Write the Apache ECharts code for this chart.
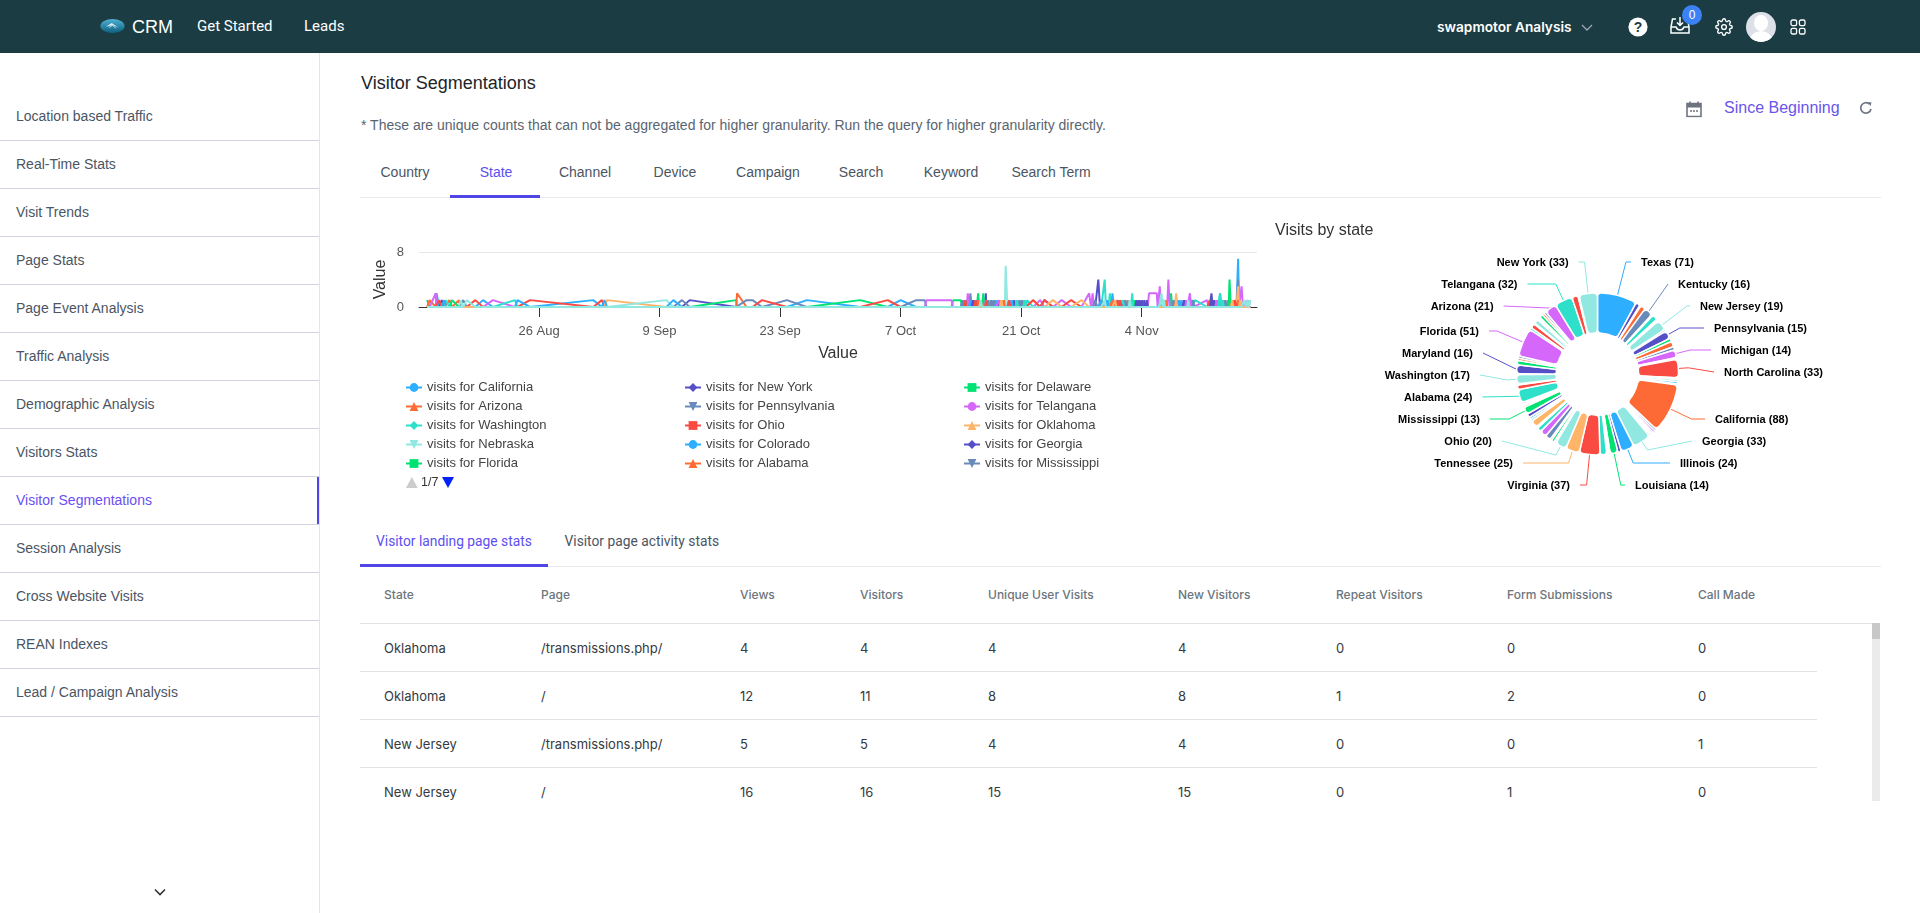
<!DOCTYPE html>
<html><head><meta charset="utf-8"><title>Visitor Segmentations</title>
<script src="https://cdn.jsdelivr.net/npm/echarts@6/dist/echarts.min.js"></script>
<style>
html,body{margin:0;padding:0;width:1920px;height:913px;overflow:hidden;background:#fff;font-family:"Liberation Sans",Arial,sans-serif}
svg{display:block}
.a{position:absolute;white-space:nowrap}
.m{transform:translateY(-50%)}
.c{transform:translate(-50%,-50%)}
#head{position:absolute;left:0;top:0;width:1920px;height:53px;background:#1b3c43}
#side{position:absolute;left:0;top:53px;width:319px;height:860px;border-right:1px solid #e4e4ee}
.si{position:absolute;left:0;width:319px;height:47px;line-height:47px;border-bottom:1px solid #d4d4e0;font-size:14px;color:#4b5563;text-indent:16px}
.si.on{color:#6a4ff0}
.tbl{font-family:Inter,sans-serif}
</style></head><body>
<div id="head"></div>
<div id="side"></div>
<div id="page"></div>
<div id="lineChart" class="a" style="left:360px;top:220px;width:910px;height:290px"></div>
<div id="pieChart" class="a" style="left:1270px;top:210px;width:650px;height:300px"></div>
<script>
/* ---------- page text ---------- */
const sideItems = ['Location based Traffic','Real-Time Stats','Visit Trends','Page Stats','Page Event Analysis','Traffic Analysis','Demographic Analysis','Visitors Stats','Visitor Segmentations','Session Analysis','Cross Website Visits','REAN Indexes','Lead / Campaign Analysis'];
const segTabs = ['Country','State','Channel','Device','Campaign','Search','Keyword','Search Term'];
const tableHead = ['State','Page','Views','Visitors','Unique User Visits','New Visitors','Repeat Visitors','Form Submissions','Call Made'];
const tableRows = [
  ['Oklahoma','/transmissions.php/','4','4','4','4','0','0','0'],
  ['Oklahoma','/','12','11','8','8','1','2','0'],
  ['New Jersey','/transmissions.php/','5','5','4','4','0','0','1'],
  ['New Jersey','/','16','16','15','15','0','1','0']
];

/* ---------- line chart values: [days since 12 Aug, visits]; every other moment is 0 ---------- */
const visitsCalifornia   = [[2.1,2],[7.5,1],[20.3,1],[45.1,1],[56.0,1],[64.1,1],[66.8,1],[68.9,1],[80.0,1],[87.7,1],[93.1,2],[95.2,7]];
const visitsNewYork      = [[2.7,1],[31.5,1],[64.4,1],[65.9,2],[69.2,1],[72.7,1],[78.96,4],[81.8,1],[83.4,1],[84.3,1],[88.9,1],[92.1,2]];
const visitsDelaware     = [[1.0,1],[36.9,1],[51.3,1],[62.1,1],[63.0,1],[65.0,2],[70.4,1],[83.1,1],[87.4,2],[92.4,1],[93.4,1],[95.9,1]];
const visitsArizona      = [[1.3,1],[3.6,1],[4.7,1],[37.0,2],[65.3,1],[71.4,1],[80.9,1],[86.8,1],[94.0,1]];
const visitsPennsylvania = [[5.2,1],[30.6,1],[38.1,1],[38.8,1],[42.8,1],[57.8,1],[58.8,1],[63.2,1],[64.1,2],[66.2,1],[70.1,1],[78.6,1],[82.1,1],[84.0,1],[89.9,1],[93.7,1],[95.2,4]];
const visitsTelangana    = [[2.0,2],[8.65,1],[59.0,1],[61.9,1],[63.8,2],[67.1,1],[72.2,1],[74.7,1],[77.9,2],[78.3,2],[84.85,2],[85.75,2],[86.1,3],[87.1,4],[89.4,1],[91.6,1],[92.7,1],[95.6,3]];
const visitsWashington   = [[3.2,1],[11.2,1],[66.5,1],[69.8,1],[70.7,1],[79.7,4],[80.3,2],[82.9,2],[89.2,1],[90.2,1]];
const visitsOhio         = [[2.4,1],[6.6,1],[12.95,1],[21.3,1],[39.9,1],[54.5,1],[63.5,1],[64.7,1],[68.0,1],[68.6,1],[71.4,1],[72.7,1],[75.8,1],[79.3,1],[81.5,1],[86.6,1],[88.3,1],[91.9,1],[94.8,1]];
const visitsOklahoma     = [[21.9,1],[67.7,1],[69.5,1],[73.7,1],[77.0,1],[81.2,1],[88.0,2],[94.5,1],[95.2,3]];
const visitsNebraska     = [[4.9,1],[28.8,1],[68.2,6],[82.6,1],[86.3,2],[96.3,1],[96.6,1]];
const visitsColorado     = [[3.0,1],[11.5,1],[21.6,1],[29.6,1],[64.1,1],[67.1,1],[68.6,1],[68.9,1],[79.3,1],[80.0,1],[80.6,2],[81.2,1],[88.3,1],[88.6,1],[93.1,1],[93.4,1]];
const visitsGeorgia      = [[64.4,1],[64.7,1],[67.4,1],[83.4,1],[83.7,1],[84.0,1],[84.6,1],[88.9,1],[89.2,1],[92.1,1],[92.4,1]];
const visitsFlorida      = [[3.9,1],[65.6,2],[94.2,4]];
const visitsAlabama      = [[65.0,1],[65.3,1],[67.7,1],[68.0,1],[80.6,1],[80.9,1],[82.4,1],[86.6,1],[86.8,1],[94.8,1],[95.2,1],[95.4,1]];
const visitsMississippi  = [[63.2,1],[63.5,1],[66.5,1],[66.8,1],[69.8,1],[70.1,1],[78.6,1],[82.1,1],[87.7,1],[89.9,1],[90.0,1],[92.7,1],[93.7,1]];
const visitsTexas        = [[65.9,1],[67.4,1],[89.2,1],[89.6,2],[92.7,1],[96.3,1]];
const visitsKentucky     = [[66.0,1],[69.5,1],[70.4,1],[81.8,1],[82.6,1],[86.3,1],[93.1,2],[93.4,1],[96.6,1]];
const visitsNewJersey    = [[63.5,1],[64.7,1],[66.0,1],[68.6,1],[81.2,1],[81.5,1],[88.0,1],[94.8,1],[95.4,1]];
const visitsIllinois     = [[67.7,1],[80.9,1],[88.0,1],[94.5,1],[95.4,1]];
const visitsVirginia     = [[5.6,1],[65.3,1],[79.7,1],[82.6,1],[86.3,1],[86.6,1],[89.4,1],[95.9,1],[96.3,1],[96.6,1]];
/* moments in the busy stretches when none of the drawn states had a visit */
const quietDaysOctober  = [63.1,63.35,63.65,63.95,64.25,64.55,64.85,65.15,65.45,65.75,65.95,66.1,66.35,66.65,66.95,67.25,67.55,67.85,68.1,68.4,68.75,69.05,69.35,69.65,69.95,70.25,70.55];
const quietDaysNovember = [78.1,78.45,78.8,79.15,79.5,79.85,80.15,80.45,80.75,81.05,81.35,81.65,81.95,82.25,82.5,82.75,83.0,83.25,83.55,83.85,84.15,84.45,84.7,85.85,86.0,86.2,86.45,86.7,86.95,87.25,87.55,87.85,88.15,88.45,88.75,89.05,89.3,89.5,89.75,89.95,90.1,91.75,92.0,92.25,92.55,92.9,93.25,93.55,93.85,94.1,94.35,94.65,95.0,95.3,95.5,95.75,96.1,96.45];

const lineStates = ['California','New York','Delaware','Arizona','Pennsylvania','Telangana','Washington','Ohio','Oklahoma','Nebraska','Colorado','Georgia','Florida','Alabama','Mississippi','Texas','Kentucky','New Jersey','Illinois','Virginia'];
const lineValues = [visitsCalifornia,visitsNewYork,visitsDelaware,visitsArizona,visitsPennsylvania,visitsTelangana,visitsWashington,visitsOhio,visitsOklahoma,visitsNebraska,visitsColorado,visitsGeorgia,visitsFlorida,visitsAlabama,visitsMississippi,visitsTexas,visitsKentucky,visitsNewJersey,visitsIllinois,visitsVirginia];
const xTickDays = [14,28,42,56,70,84];
const xTickLabels = ['26 Aug','9 Sep','23 Sep','7 Oct','21 Oct','4 Nov'];
const legendPage = '1/7';

/* ---------- pie values, clockwise from twelve o'clock, ten slices to a row; '' = slice whose label the reference hides ---------- */
const pieStates = [
 'Texas','','','','Kentucky','','','','','New Jersey',
 '','Pennsylvania','','','','Michigan','','North Carolina','','',
 '','','','California','','','','','','Georgia',
 'Illinois','','Louisiana','','','','','Virginia','Tennessee','Ohio',
 '','','','','','','','','','',
 '','','Mississippi','','','','Alabama','','','Washington',
 '','Maryland','','','','Florida','','','','',
 '','','','','','Arizona','Telangana','','','New York'];
const pieVisits = [
 71,8,2,9,16,2,10,2,2,19,
 3,15,6,10,6,14,3,33,3,4,
 4,1,1,88,4,4,3,3,3,33,
 24,6,14,2,2,2,12,37,25,20,
 2,2,5,3,10,12,8,3,13,4,
 4,7,13,3,3,3,24,8,2,17,
 1,16,8,4,4,51,4,8,2,8,
 3,3,6,4,4,21,32,11,2,33];
const palette = ['#2eaeff','#5650c8','#00e272','#fe6a35','#6b8abc','#d568fb','#2ee0ca','#fa4b42','#feb56a','#91e8e1'];
const symbols = ['circle','diamond','rect','triangle','path://M0,0 L10,0 L5,10 Z'];

/* ---------- layout tables (page pixels) ---------- */
const pieLabelSpots = {
 'Texas':[1641,263,'left'],'Kentucky':[1678,285,'left'],'New Jersey':[1700,307,'left'],'Pennsylvania':[1714,329,'left'],'Michigan':[1721,351,'left'],'North Carolina':[1724,373,'left'],'California':[1715,420,'left'],'Georgia':[1702,442,'left'],'Illinois':[1680,464,'left'],'Louisiana':[1635,486,'left'],
 'New York':[1568.6,263,'right'],'Telangana':[1517.5,285,'right'],'Arizona':[1493.6,307,'right'],'Florida':[1479,332,'right'],'Maryland':[1473,354,'right'],'Washington':[1470,376,'right'],'Alabama':[1472.5,398,'right'],'Mississippi':[1480,420,'right'],'Ohio':[1492,442,'right'],'Tennessee':[1513,464,'right'],'Virginia':[1570,486,'right']};

/* ---------- build page ---------- */
const page = document.getElementById('page'), head = document.getElementById('head'), side = document.getElementById('side');
function put(parent, html, x, y, css, cls){const d=document.createElement('div');d.className='a '+(cls||'m');d.style.cssText='left:'+x+'px;top:'+y+'px;'+(css||'');d.innerHTML=html;parent.appendChild(d);return d;}
function rule(x,y,w,h,c){put(page,'',x,y,'width:'+w+'px;height:'+h+'px;background:'+c,' ');}

put(head,'<svg width="25" height="15" viewBox="0 0 30 20" preserveAspectRatio="none"><defs><linearGradient id="lg" x1="0" y1="0" x2="0" y2="1"><stop offset="0" stop-color="#4fb2d6"/><stop offset="1" stop-color="#0d5e7c"/></linearGradient></defs><ellipse cx="15" cy="10" rx="14.5" ry="9.5" fill="url(#lg)"/><path d="M7 11 L14 6 L22 12 L15 9 Z" fill="#d9edf4"/><path d="M11 12 L15 9 L19 13" stroke="#d9edf4" fill="none"/></svg>',100,26);
put(head,'CRM',132,27,'font-size:18px;color:#fff;');
put(head,'Get Started',197,26,'font-size:15px;color:#fff;font-family:Roboto,sans-serif;font-weight:400');
put(head,'Leads',304,26,'font-size:15px;color:#fff;font-family:Roboto,sans-serif;font-weight:400');
put(head,'swapmotor Analysis',1437,27,'font-size:13.7px;color:#fff;font-family:Inter,sans-serif;font-weight:600');
put(head,'<svg width="12" height="8" viewBox="0 0 12 8"><path d="M1 1 L6 6 L11 1" stroke="#9aa9ad" stroke-width="1.3" fill="none"/></svg>',1581,28);
put(head,'<svg width="20" height="20" viewBox="0 0 20 20"><circle cx="10" cy="10" r="9.6" fill="#fff"/><text x="10" y="15" text-anchor="middle" font-size="14" font-weight="700" fill="#1b3c43" font-family="Liberation Sans">?</text></svg>',1628,27);
put(head,'<svg width="20" height="20" viewBox="0 0 20 20" fill="none" stroke="#fff" stroke-width="1.5"><path d="M6 3 H2.5 L1 11 V17 H19 V11 L17.5 3 H14"/><path d="M1 11 H6 Q7 14 10 14 Q13 14 14 11 H19"/><path d="M10 1 V9 M7 6.5 L10 9.5 L13 6.5"/></svg>',1670,26);
put(head,'0',1692,15,'width:20px;height:20px;line-height:20px;border-radius:50%;background:#3b82f6;color:#fff;font-size:12px;text-align:center','c');
put(head,'<svg width="18" height="18" viewBox="0 0 24 24" fill="none" stroke="#fff" stroke-width="1.8"><circle cx="12" cy="12" r="3.2"/><path d="M19.4 15a1.7 1.7 0 0 0 .3 1.8l.1.1a2 2 0 1 1-2.9 2.9l-.1-.1a1.7 1.7 0 0 0-2.8 1.2V21a2 2 0 1 1-4 0v-.1a1.7 1.7 0 0 0-2.9-1.2l-.1.1a2 2 0 1 1-2.9-2.9l.1-.1a1.7 1.7 0 0 0-1.2-2.8H3a2 2 0 1 1 0-4h.1a1.7 1.7 0 0 0 1.2-2.9l-.1-.1a2 2 0 1 1 2.9-2.9l.1.1a1.7 1.7 0 0 0 1.8.3H9a1.7 1.7 0 0 0 1-1.5V3a2 2 0 1 1 4 0v.1a1.7 1.7 0 0 0 2.9 1.2l.1-.1a2 2 0 1 1 2.9 2.9l-.1.1a1.7 1.7 0 0 0-.3 1.8V9a1.7 1.7 0 0 0 1.5 1H21a2 2 0 1 1 0 4h-.1a1.7 1.7 0 0 0-1.5 1z"/></svg>',1715,27);
put(head,'<svg width="30" height="30" viewBox="0 0 30 30"><clipPath id="cp"><circle cx="15" cy="15" r="15"/></clipPath><circle cx="15" cy="15" r="15" fill="#dde0e8"/><g clip-path="url(#cp)" fill="#fff"><ellipse cx="15" cy="11" rx="7" ry="8"/><path d="M3 30 Q4 20 15 19 Q26 20 27 30 Z"/></g></svg>',1746,27);
put(head,'<svg width="16" height="16" viewBox="0 0 16 16" fill="none" stroke="#fff" stroke-width="1.3"><rect x="1" y="1" width="5.6" height="5.6" rx="1.6"/><rect x="9.4" y="1" width="5.6" height="5.6" rx="1.6"/><rect x="1" y="9.4" width="5.6" height="5.6" rx="1.6"/><rect x="9.4" y="9.4" width="5.6" height="5.6" rx="1.6"/></svg>',1790,27);

sideItems.forEach((t,i)=>{const d=document.createElement('div');d.className='si'+(t==='Visitor Segmentations'?' on':'');d.style.top=(40+48*i)+'px';d.textContent=t;side.appendChild(d);});
put(page,'',317,477,'width:2px;height:47px;background:#4f46e5',' ');
put(page,'<svg width="14" height="9" viewBox="0 0 14 9"><path d="M2 2 L7 7 L12 2" stroke="#333" stroke-width="1.6" fill="none"/></svg>',153,892);

put(page,'Visitor Segmentations',361,82.5,'font-size:18px;color:#212529');
put(page,'* These are unique counts that can not be aggregated for higher granularity. Run the query for higher granularity directly.',361,125,'font-size:14px;color:#5a6470');
put(page,'<svg width="16" height="17" viewBox="0 0 16 17"><path d="M1 3 H15 V16 H1 Z" fill="none" stroke="#6c7480" stroke-width="1.6"/><rect x="1" y="3" width="14" height="4" fill="#6c7480"/><path d="M4 1 V4 M12 1 V4" stroke="#6c7480" stroke-width="1.6"/><path d="M4 10.5 H6 M7 10.5 H9 M10 10.5 H12" stroke="#6c7480" stroke-width="1.4"/></svg>',1686,109);
put(page,'Since Beginning',1724,108,'font-size:16px;color:#6a55ea');
put(page,'<svg width="14" height="14" viewBox="0 0 14 14" fill="none" stroke="#6c7480" stroke-width="1.7"><path d="M12 8 A5.2 5.2 0 1 1 10.4 3"/><path d="M9 1 L12.5 1.5 L11.5 5.2 Z" fill="#6c7480" stroke="none"/></svg>',1859,108);

const tabXs=[405,496,585,675,768,861,951,1051];
segTabs.forEach((t,i)=>put(page,t,tabXs[i],172,'font-size:14px;color:'+(i===1?'#5b4ff0':'#4b5563'),'c'));
rule(360,197,1521,1,'#e9e9f0'); rule(450,195,90,2.5,'#4f46e5');

put(page,'Visitor landing page stats',376,541,'font-size:13.8px;color:#5b4ff0;font-family:Roboto,sans-serif');
put(page,'Visitor page activity stats',564.5,541,'font-size:13.8px;color:#4b5563;font-family:Roboto,sans-serif');
rule(360,566,1521,1,'#e9e9f0'); rule(360,564,188,2.5,'#4f46e5');

const colXs=[384,541,740,860,988,1178,1336,1507,1698];
tableHead.forEach((t,i)=>put(page,t,colXs[i],594,'font-size:12px;font-weight:500;color:#6c757d','m tbl'));
rule(360,623,1520,1,'#e2e2e2');
tableRows.forEach((r,k)=>{r.forEach((t,i)=>put(page,t,colXs[i],648+48*k,'font-size:13px;color:#343a40','m tbl')); if(k<3) rule(360,671+48*k,1457,1,'#e2e2e2');});
rule(1872,623,8,178,'#ebebeb'); rule(1872,623,8,16,'#c8c8c8');

/* ---------- line chart ---------- */
const allDays = Array.from(new Set(lineValues.flat().map(p=>p[0]).concat(quietDaysOctober,quietDaysNovember))).sort((a,b)=>a-b);
const lineSeries = lineStates.map((s,i)=>{
  const hit = new Map(lineValues[i].map(p=>[p[0],p[1]]));
  return {name:'visits for '+s,type:'line',showSymbol:false,symbol:symbols[i%5],symbolSize:9,
    lineStyle:{width:2,color:palette[i%10]},itemStyle:{color:palette[i%10]},emphasis:{disabled:true},
    data:allDays.map(d=>[d,hit.get(d)||0])};
});
const lineChart = echarts.init(document.getElementById('lineChart'));
lineChart.setOption({
  animation:false,color:palette,
  grid:{left:59,right:13,top:32,bottom:203,outerBoundsMode:'none'},
  xAxis:{type:'value',min:0.06,max:97.39,
    name:'Value',nameLocation:'middle',nameGap:39,nameMoveOverlap:false,nameTextStyle:{fontSize:16,color:'#333',fontFamily:'Liberation Sans'},
    axisLine:{lineStyle:{color:'#333',width:1}},
    axisTick:{show:true,length:10,lineStyle:{color:'#333'},customValues:xTickDays},
    axisLabel:{fontSize:13,color:'#555',margin:18,fontFamily:'Liberation Sans',hideOverlap:false,
      customValues:xTickDays,
      formatter:v=>xTickLabels[xTickDays.indexOf(v)]},
    splitLine:{show:false}},
  yAxis:{type:'value',min:0,max:8,interval:8,
    name:'Value',nameLocation:'middle',nameGap:30,nameMoveOverlap:false,nameTextStyle:{fontSize:16,color:'#333',fontFamily:'Liberation Sans'},
    axisLine:{show:false},axisTick:{show:false},
    axisLabel:{fontSize:13,color:'#555',margin:15,fontFamily:'Liberation Sans',padding:[2,0,0,0]},
    splitLine:{lineStyle:{color:'#e6e6e6'}}},
  legend:{type:'plain',left:45,top:161,width:850,padding:0,itemWidth:16,itemHeight:11,itemGap:6,
    selectedMode:false,
    data:lineSeries.slice(0,15).map(s=>s.name),
    formatter:'{t|{name}}',
    textStyle:{fontFamily:'Liberation Sans',fontSize:13,color:'#444',rich:{t:{width:251,height:12,lineHeight:12,fontSize:13,color:'#444',fontFamily:'Liberation Sans'}}}},
  graphic:[
    {type:'polygon',shape:{points:[[46,268],[57.7,268],[51.85,257]]},style:{fill:'#cccccc'}},
    {type:'text',x:61,y:263,style:{text:legendPage,fontSize:12.5,fontFamily:'Liberation Sans',fill:'#333',verticalAlign:'middle'}},
    {type:'polygon',shape:{points:[[82,257],[94,257],[88,268]]},style:{fill:'#0022ff'}}
  ],
  series:lineSeries
});

/* ---------- pie chart ---------- */
const pieOX=1270,pieOY=210,pieCX=327.5,pieCY=164;
const pieChart = echarts.init(document.getElementById('pieChart'));
pieChart.setOption({
  animation:false,
  title:{text:'Visits by state',left:0,top:8,textStyle:{fontSize:16,fontWeight:'normal',color:'#333',fontFamily:'Liberation Sans'}},
  series:[{type:'pie',radius:[41,81],center:[pieCX,pieCY],startAngle:90,clockwise:true,avoidLabelOverlap:false,minShowLabelAngle:0,
    itemStyle:{borderColor:'#fff',borderWidth:1.5,borderRadius:4},
    emphasis:{disabled:true},
    label:{show:true,formatter:'{b} ({c})',fontSize:11,fontWeight:'bold',color:'#000',fontFamily:'Liberation Sans',position:'outside'},
    labelLine:{show:true,length:20,length2:10,lineStyle:{width:1}},
    labelLayout:function(p){
      const spot=pieLabelSpots[pieStates[p.dataIndex]];
      if(!spot||!p.labelLinePoints) return {};
      const x=spot[0]-pieOX,y=spot[1]-pieOY,sign=spot[2]==='left'?1:-1;
      const p0=p.labelLinePoints[0];
      const end=[x-sign*10,y-1];
      const dx=p0[0]-pieCX,dy=p0[1]-pieCY;
      let bend=null;
      if(Math.abs(dy)>1&&(end[1]-pieCY)/dy>1.04){
        const k=(end[1]-pieCY)/dy, bx=pieCX+dx*k;
        bend=(bx-end[0])*sign<0?[bx,end[1]]:null;
      }else if((end[1]-pieCY)/dy<1&&Math.abs(dx)<Math.abs(end[0]-pieCX)){
        const len=Math.hypot(dx,dy); bend=[p0[0]+dx/len*10,p0[1]+dy/len*10];
      }
      return {x:x,y:y,align:spot[2],verticalAlign:'middle',labelLinePoints:bend?[p0,bend,end]:[p0,end]};
    },
    data:pieStates.map((n,i)=>({name:n,value:pieVisits[i],itemStyle:{color:palette[i%10]},
      label:{show:!!n},labelLine:{show:!!n}}))
  }]
});
</script>
</body></html>
